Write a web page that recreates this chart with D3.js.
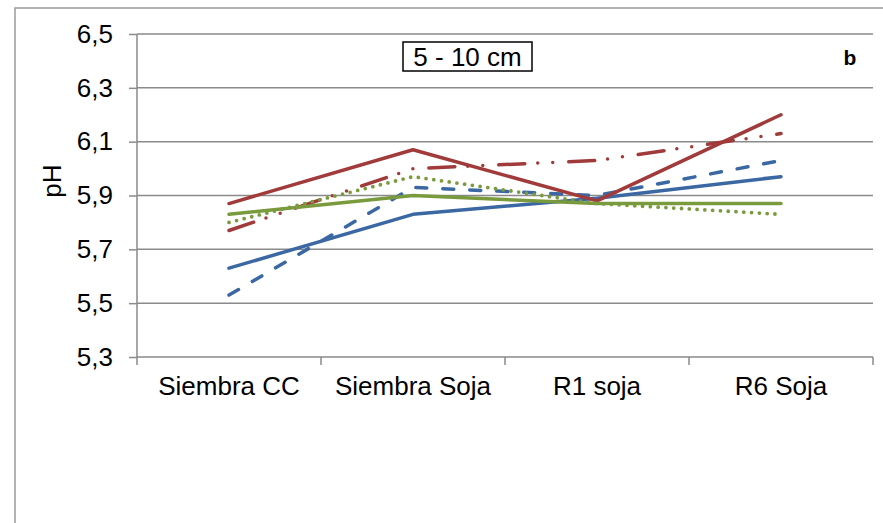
<!DOCTYPE html>
<html><head><meta charset="utf-8">
<script src="https://cdn.jsdelivr.net/npm/d3@7"></script>
<style>body{margin:0;background:#fff}svg{display:block}text{font-family:"Liberation Sans",Arial,sans-serif}</style>
</head><body><svg id="c" width="883" height="523"></svg>
<script>
const categories = ["Siembra CC", "Siembra Soja", "R1 soja", "R6 Soja"];
const yTicks = [5.3, 5.5, 5.7, 5.9, 6.1, 6.3, 6.5];
const blueSolid  = [5.63, 5.83, 5.89, 5.97];
const blueDash   = [5.53, 5.93, 5.90, 6.03];
const redSolid   = [5.87, 6.07, 5.88, 6.20];
const redDashDot = [5.77, 6.00, 6.03, 6.13];
const greenSolid = [5.83, 5.90, 5.87, 5.87];
const greenDot   = [5.80, 5.97, 5.87, 5.83];
const titleText = "5 - 10 cm";
const panelLabel = "b";
const yLabel = "pH";

const series = [
  {v: blueDash, c: "#3b68a3", dash: "11,16", cap: "round", w: 3.5},
  {v: blueSolid, c: "#3b68a3", dash: null, cap: "round", w: 3.5},
  {v: redDashDot, c: "#a13a3a", dash: "26,13,0,15,0,16", cap: "round", w: 3.5},
  {v: redSolid, c: "#a13a3a", dash: null, cap: "round", w: 3.5},
  {v: greenDot, c: "#7a9a3e", dash: "0,7.8", cap: "round", w: 3.8},
  {v: greenSolid, c: "#7a9a3e", dash: null, cap: "round", w: 3.5}
];

const svg = d3.select("#c");
const L = 137, R = 873, T = 34, B = 357;
const x = d3.scaleBand().domain(categories).range([L, R]);
const y = d3.scaleLinear().domain([5.3, 6.5]).range([B, T]);
const fmt = d3.formatLocale({decimal: ",", thousands: ".", grouping: [3], currency: ["", ""]}).format(".1f");
const FS = 26;

// outer border
svg.append("rect").attr("x", 15).attr("y", 8).attr("width", 900).attr("height", 600)
  .attr("fill", "none").attr("stroke", "#9a9a9a").attr("stroke-width", 1.5);

// gridlines
svg.append("g").selectAll("line").data(yTicks.filter(t => t > 5.3)).join("line")
  .attr("x1", L).attr("x2", R).attr("y1", d => y(d)).attr("y2", d => y(d))
  .attr("stroke", "#8a8a8a").attr("stroke-width", 1.5);

// y axis
const ya = svg.append("g").attr("transform", `translate(${L},0)`)
  .call(d3.axisLeft(y).tickValues(yTicks).tickFormat(fmt).tickSize(8).tickPadding(16));
ya.select(".domain").attr("stroke", "#8a8a8a").attr("stroke-width", 1.5).attr("d", `M0,${T}V${B}`);
ya.selectAll(".tick line").attr("stroke", "#8a8a8a").attr("stroke-width", 1.5);
ya.selectAll("text").attr("font-size", FS).attr("fill", "#000").attr("font-family", '"Liberation Sans",Arial,sans-serif');

// x axis
const xa = svg.append("g").attr("transform", `translate(0,${B})`)
  .call(d3.axisBottom(x).tickSize(0).tickPadding(20));
xa.select(".domain").attr("stroke", "#8a8a8a").attr("stroke-width", 1.5).attr("d", `M${L},0H${R}`);
xa.selectAll("text").attr("font-size", FS).attr("fill", "#000").attr("font-family", '"Liberation Sans",Arial,sans-serif');
const edges = categories.map(c => x(c)).concat([R]);
xa.append("g").selectAll("line").data(edges).join("line")
  .attr("x1", d => d).attr("x2", d => d).attr("y1", 0).attr("y2", 8)
  .attr("stroke", "#8a8a8a").attr("stroke-width", 1.5);

// lines
const line = d3.line().x((d, i) => x(categories[i]) + x.bandwidth() / 2).y(d => y(d));
svg.append("g").selectAll("path").data(series).join("path")
  .attr("d", s => line(s.v)).attr("fill", "none")
  .attr("stroke", s => s.c).attr("stroke-width", s => s.w)
  .attr("stroke-dasharray", s => s.dash).attr("stroke-linecap", s => s.cap)
  .attr("stroke-linejoin", "round");

// y label
svg.append("text").attr("transform", "translate(61,181) rotate(-90)")
  .attr("text-anchor", "middle").attr("font-size", FS).text(yLabel);

// title box
const tb = svg.append("g");
tb.append("rect").attr("x", 403).attr("y", 42).attr("width", 129).attr("height", 29)
  .attr("fill", "#fff").attr("stroke", "#000").attr("stroke-width", 1.5);
tb.append("text").attr("x", 467.5).attr("y", 65.5).attr("text-anchor", "middle")
  .attr("font-size", FS).text(titleText);

// panel label
svg.append("rect").attr("x", 823).attr("y", 35).attr("width", 50).attr("height", 40).attr("fill", "#fff");
svg.append("text").attr("x", 850).attr("y", 65).attr("text-anchor", "middle")
  .attr("font-size", 21).attr("font-weight", "bold").text(panelLabel);
</script></body></html>
